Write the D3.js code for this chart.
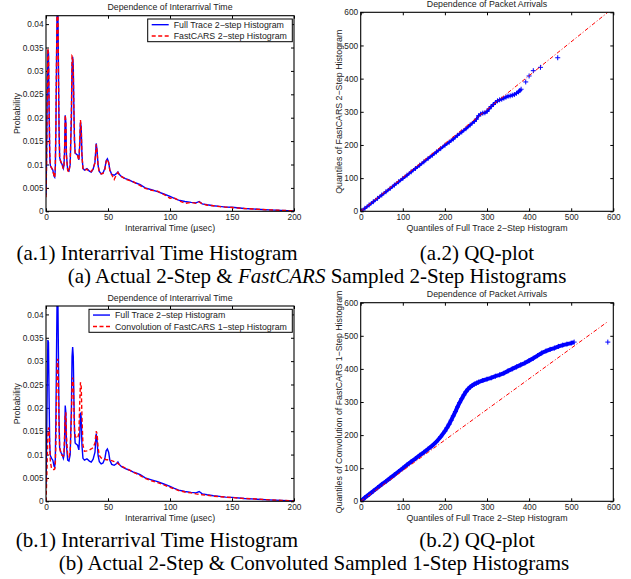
<!DOCTYPE html>
<html>
<head>
<meta charset="utf-8">
<script src="https://cdn.jsdelivr.net/npm/d3@7"></script>
<style>
body { margin: 0; background: #fff; }
svg { display: block; }
</style>
</head>
<body>
<svg id="fig" width="631" height="579"></svg>
<script>
// interarrival histograms (x in usec, probability)
var histX = [0, 0.5, 1, 1.5, 2, 2.5, 3, 3.5, 4.5, 5.5, 6.5, 7, 7.5, 8, 8.5, 9, 9.5, 10, 10.5, 11,
    12, 13, 14, 14.5, 15, 15.5, 16, 16.5, 17.5, 18.5, 19.5, 20.5, 21, 21.5, 22, 22.5, 23, 23.5, 24.5, 25.5,
    26.5, 27.2, 27.8, 28.4, 29, 29.8, 31, 33, 35, 36.5, 38, 39.5, 40.5, 41.2, 42, 43, 44.5, 46, 47.5, 48.5,
    49.5, 50.5, 51.5, 53, 55, 57, 58, 59, 61, 64, 67, 70, 73, 76, 80, 85, 90, 95, 100, 103,
    107, 112, 117, 121, 123.5, 126, 130, 135, 140, 145, 150, 160, 170, 180, 190, 200];
var fullTrace2 = [0.0035, 0.012, 0.025, 0.0345, 0.034, 0.022, 0.012, 0.0098, 0.0092, 0.0088, 0.0075, 0.0073, 0.009, 0.018, 0.032, 0.045, 0.046, 0.032, 0.018, 0.0115,
    0.0105, 0.01, 0.0092, 0.0098, 0.013, 0.0205, 0.019, 0.012, 0.0088, 0.0086, 0.01, 0.02, 0.031, 0.033, 0.031, 0.022, 0.015, 0.0125, 0.0122, 0.012,
    0.011, 0.014, 0.019, 0.018, 0.012, 0.0092, 0.0088, 0.0091, 0.0086, 0.0084, 0.009, 0.0105, 0.0145, 0.013, 0.0098, 0.0085, 0.008, 0.0082, 0.0092, 0.0108,
    0.0112, 0.0105, 0.0088, 0.0079, 0.0077, 0.0081, 0.0084, 0.0079, 0.0074, 0.007, 0.0067, 0.0063, 0.006, 0.0057, 0.005, 0.0046, 0.0042, 0.0037, 0.0032, 0.0028,
    0.0024, 0.0021, 0.0019, 0.0018, 0.0021, 0.0016, 0.0014, 0.0012, 0.00105, 0.0009, 0.00085, 0.0006, 0.00045, 0.0003, 0.0002, 0.0001];
var fastCars2 = [0.003, 0.011, 0.024, 0.0348, 0.0335, 0.023, 0.0125, 0.0097, 0.0093, 0.0087, 0.0076, 0.0072, 0.0092, 0.019, 0.033, 0.045, 0.046, 0.031, 0.018, 0.0113,
    0.0106, 0.0099, 0.0091, 0.0099, 0.0135, 0.0206, 0.0188, 0.0118, 0.0087, 0.0084, 0.0102, 0.022, 0.0332, 0.033, 0.03, 0.021, 0.0148, 0.0124, 0.0121, 0.0119,
    0.0109, 0.015, 0.0195, 0.0178, 0.0118, 0.0091, 0.0087, 0.009, 0.0085, 0.0085, 0.0091, 0.0104, 0.0143, 0.0128, 0.0097, 0.0084, 0.008, 0.0081, 0.009, 0.0106,
    0.0111, 0.0104, 0.0087, 0.0078, 0.0068, 0.008, 0.0083, 0.0079, 0.0074, 0.0069, 0.0066, 0.0064, 0.0059, 0.0055, 0.0049, 0.0045, 0.0043, 0.0036, 0.0028, 0.0029,
    0.0023, 0.0017, 0.0019, 0.0017, 0.002, 0.0016, 0.0013, 0.0012, 0.001, 0.0009, 0.0008, 0.0006, 0.00045, 0.0003, 0.0002, 0.0001];
var convFastCars1 = [0, 0.004, 0.009, 0.014, 0.0158, 0.0155, 0.012, 0.0085, 0.007, 0.0068, 0.0068, 0.0069, 0.0078, 0.013, 0.022, 0.0295, 0.0305, 0.025, 0.016, 0.0115,
    0.0102, 0.0098, 0.0097, 0.0105, 0.014, 0.0185, 0.019, 0.014, 0.0098, 0.0095, 0.0105, 0.018, 0.0245, 0.0265, 0.0255, 0.02, 0.0155, 0.014, 0.0136, 0.0135,
    0.0145, 0.021, 0.0255, 0.0245, 0.018, 0.012, 0.0107, 0.0108, 0.011, 0.0112, 0.0115, 0.0125, 0.015, 0.0145, 0.0115, 0.0098, 0.0093, 0.0091, 0.009, 0.0089,
    0.0089, 0.0088, 0.0088, 0.0087, 0.0085, 0.0083, 0.0081, 0.0079, 0.0075, 0.0071, 0.0067, 0.0063, 0.0059, 0.0055, 0.0049, 0.0044, 0.004, 0.0035, 0.003, 0.0027,
    0.0023, 0.002, 0.0018, 0.0016, 0.0015, 0.0014, 0.0013, 0.0011, 0.001, 0.0009, 0.0008, 0.0006, 0.0005, 0.0003, 0.0002, 0.0001];
var histXTicks = [0, 50, 100, 150, 200];
var histYTicks = [0, 0.005, 0.01, 0.015, 0.02, 0.025, 0.03, 0.035, 0.04];

// QQ plot (a.2): full trace 2-step quantiles vs FastCARS 2-step quantiles
var qqA_x = [0, 10, 20, 30, 40, 50, 60, 70, 80, 90, 100, 110, 120, 130, 140, 150, 160, 170, 180, 190,
    200, 210, 220, 230, 240, 250, 260, 270, 275, 280, 285, 290, 295, 300, 305, 310, 315, 320, 325, 330,
    335, 340, 345, 350, 355, 360, 365, 370, 375, 378, 381];
var qqA_y = [0, 9, 19, 29, 39, 49, 59, 69, 79, 89, 99, 109, 119, 129, 139, 149, 159, 169, 179, 189,
    199, 208, 218, 229, 239, 249, 260, 271, 278, 288, 293, 296, 297, 301, 309, 316, 322, 328, 333, 336,
    338, 341, 344, 347, 348, 350, 352, 356, 360, 364, 368];
var qqA_tailX = [392, 400, 410, 427, 468];
var qqA_tailY = [390, 408, 424, 434, 463];
var qqA_refX = [0, 587];
var qqA_refY = [0, 600];

// QQ plot (b.2): full trace 2-step quantiles vs convolution of FastCARS 1-step
var qqB_x = [0, 10, 20, 30, 40, 50, 60, 70, 80, 90, 100, 110, 120, 130, 140, 150, 160, 170, 180, 190,
    200, 205, 210, 215, 220, 225, 230, 235, 240, 245, 250, 255, 260, 265, 270, 275, 280, 290, 300, 310,
    320, 330, 340, 350, 360, 370, 380, 390, 400, 410, 420, 430, 440, 450, 460, 470, 480, 490, 500, 507];
var qqB_y = [0, 11, 21, 31, 41, 51, 60, 70, 80, 90, 100, 110, 120, 129, 139, 148, 158, 168, 180, 195,
    212, 222, 233, 245, 258, 271, 285, 298, 310, 321, 331, 339, 345, 350, 354, 357, 360, 365, 369, 373,
    378, 382, 387, 394, 400, 406, 412, 418, 425, 432, 440, 448, 454, 459, 463, 468, 472, 475, 478, 481];
var qqB_tailX = [587];
var qqB_tailY = [481];
var qqB_refX = [0, 587];
var qqB_refY = [0, 543];
var qqTicks = [0, 100, 200, 300, 400, 500, 600];

var svg = d3.select('#fig');
var FONT = '"Liberation Sans", Arial, Helvetica, sans-serif';
var SERIF = '"Liberation Serif", "Times New Roman", serif';
var clipId = 0;

function makeAxes(box, xDom, yDom, xTicks, yTicks, yFmt, title, xLabel, yLabel) {
    var g = svg.append('g');
    var x = d3.scaleLinear().domain(xDom).range([box.x0, box.x1]);
    var y = d3.scaleLinear().domain(yDom).range([box.y1, box.y0]);

    var bottom = g.append('g').attr('transform', 'translate(0,' + box.y1 + ')')
        .call(d3.axisBottom(x).tickValues(xTicks).tickSize(-3).tickSizeOuter(0).tickPadding(3).tickFormat(d3.format('d')));
    var top = g.append('g').attr('transform', 'translate(0,' + box.y0 + ')')
        .call(d3.axisTop(x).tickValues(xTicks).tickSize(-3).tickSizeOuter(0).tickFormat(''));
    var left = g.append('g').attr('transform', 'translate(' + box.x0 + ',0)')
        .call(d3.axisLeft(y).tickValues(yTicks).tickSize(-3).tickSizeOuter(0).tickPadding(2.5).tickFormat(yFmt));
    var right = g.append('g').attr('transform', 'translate(' + box.x1 + ',0)')
        .call(d3.axisRight(y).tickValues(yTicks).tickSize(-3).tickSizeOuter(0).tickFormat(''));
    [bottom, top, left, right].forEach(function (a) {
        a.select('.domain').remove();
        a.selectAll('line').attr('stroke', '#000');
        a.selectAll('text').attr('font-family', FONT).attr('font-size', 8.3).attr('fill', '#222');
    });

    g.append('rect')
        .attr('x', box.x0).attr('y', box.y0)
        .attr('width', box.x1 - box.x0).attr('height', box.y1 - box.y0)
        .attr('fill', 'none').attr('stroke', '#000').attr('stroke-width', 1.1);

    // title sits just above the box (the top one just fits in the page)
    g.append('text').text(title)
        .attr('x', (box.x0 + box.x1) / 2).attr('y', Math.max(box.y0 - 5.3, 7.4))
        .attr('text-anchor', 'middle').attr('font-family', FONT).attr('font-size', 8.8).attr('fill', '#222');
    g.append('text').text(xLabel)
        .attr('x', (box.x0 + box.x1) / 2).attr('y', box.y1 + 20)
        .attr('text-anchor', 'middle').attr('font-family', FONT).attr('font-size', 8.8).attr('fill', '#222');
    g.append('text').text(yLabel)
        .attr('transform', 'translate(' + yLabel.x + ',' + (box.y0 + box.y1) / 2 + ') rotate(-90)')
        .attr('text-anchor', 'middle').attr('font-family', FONT).attr('font-size', 8.8).attr('fill', '#222');

    var id = 'clip' + (clipId++);
    svg.append('clipPath').attr('id', id).append('rect')
        .attr('x', box.x0).attr('y', box.y0)
        .attr('width', box.x1 - box.x0).attr('height', box.y1 - box.y0);
    var plot = g.insert('g', 'rect').attr('clip-path', 'url(#' + id + ')');
    return { g: g, plot: plot, x: x, y: y, box: box };
}

function legend(p, bx, labels) {
    var lg = p.g.append('g');
    lg.append('rect').attr('x', bx.x0).attr('y', bx.y0)
        .attr('width', bx.x1 - bx.x0).attr('height', bx.y1 - bx.y0)
        .attr('fill', '#fff').attr('stroke', '#000').attr('stroke-width', 1);
    var rowH = (bx.y1 - bx.y0) / labels.length;
    labels.forEach(function (l, i) {
        var cy = bx.y0 + rowH * (i + 0.5);
        lg.append('line').attr('x1', bx.x0 + 4).attr('x2', bx.x0 + 21).attr('y1', cy).attr('y2', cy)
            .attr('stroke', l.color).attr('stroke-width', 1.4).attr('stroke-dasharray', l.dash);
        lg.append('text').text(l.text).attr('x', bx.x0 + 26).attr('y', cy + 3)
            .attr('font-family', FONT).attr('font-size', 8.8).attr('fill', '#222');
    });
}

function histPanel(box, redVals, redName, legBox, title) {
    var yl = new String('Probability'); yl.x = 20;
    var p = makeAxes(box, [0, 200], [0, 0.0418], histXTicks, histYTicks, d3.format('~g'),
        title, 'Interarrival Time (\u00b5sec)', yl);
    var line = d3.line().x(function (d) { return p.x(d[0]); }).y(function (d) { return p.y(d[1]); });
    p.plot.append('path').datum(histX.map(function (v, i) { return [v, fullTrace2[i]]; }))
        .attr('d', line).attr('fill', 'none').attr('stroke', '#0000ff').attr('stroke-width', 1.4);
    p.plot.append('path').datum(histX.map(function (v, i) { return [v, redVals[i]]; }))
        .attr('d', line).attr('fill', 'none').attr('stroke', '#ff0000').attr('stroke-width', 1.4)
        .attr('stroke-dasharray', '4,2.5');
    legend(p, legBox, [
        { text: 'Full Trace 2\u2212step Histogram', color: '#0000ff', dash: null },
        { text: redName, color: '#ff0000', dash: '4,2.5' }
    ]);
}

function qqPanel(box, xs, ys, tx, ty, rx, ry, yName, bandW) {
    var yl = new String(yName); yl.x = 341.5;
    var p = makeAxes(box, [0, 600], [0, 600], qqTicks, qqTicks, d3.format('d'),
        'Dependence of Packet Arrivals', 'Quantiles of Full Trace 2\u2212Step Histogram', yl);
    var line = d3.line().x(function (d) { return p.x(d[0]); }).y(function (d) { return p.y(d[1]); });
    var pts = xs.map(function (v, i) { return [v, ys[i]]; });
    var tail = tx.map(function (v, i) { return [v, ty[i]]; });
    p.plot.append('path').datum(pts).attr('d', line)
        .attr('fill', 'none').attr('stroke', '#0000ff').attr('stroke-width', bandW);
    p.plot.selectAll('path.mk').data(pts.concat(tail)).enter().append('path')
        .attr('class', 'mk')
        .attr('transform', function (d) { return 'translate(' + p.x(d[0]) + ',' + p.y(d[1]) + ')'; })
        .attr('d', 'M-2.5,0H2.5M0,-2.5V2.5')
        .attr('stroke', '#0000ff').attr('stroke-width', 1);
    p.plot.append('path').datum(rx.map(function (v, i) { return [v, ry[i]]; })).attr('d', line)
        .attr('fill', 'none').attr('stroke', '#ff0000').attr('stroke-width', 1)
        .attr('stroke-dasharray', '4,2,1,2');
}

histPanel({ x0: 46, x1: 294, y0: 15.7, y1: 211.3 }, fastCars2, 'FastCARS 2\u2212step Histogram',
    { x0: 147.7, x1: 292.3, y0: 19, y1: 41.7 }, 'Dependence of Interarrival Time');
qqPanel({ x0: 360.7, x1: 613.3, y0: 12.3, y1: 211.3 }, qqA_x, qqA_y, qqA_tailX, qqA_tailY, qqA_refX, qqA_refY,
    'Quantiles of FastCARS 2\u2212Step Histogram', 2.5);
histPanel({ x0: 46, x1: 294, y0: 306, y1: 501.3 }, convFastCars1, 'Convolution of FastCARS 1\u2212step Histogram',
    { x0: 89, x1: 292.3, y0: 309.3, y1: 332.3 }, 'Dependence of Interarrival Time');
qqPanel({ x0: 360.7, x1: 613.3, y0: 302.7, y1: 501.3 }, qqB_x, qqB_y, qqB_tailX, qqB_tailY, qqB_refX, qqB_refY,
    'Quantiles of Convolution of FastCARS 1\u2212Step Histogram', 4);

// captions
function caption(x, y, parts) {
    var t = svg.append('text').attr('x', x).attr('y', y).attr('text-anchor', 'middle')
        .attr('font-family', SERIF).attr('font-size', 21).attr('fill', '#000');
    parts.forEach(function (s) {
        t.append('tspan').text(s[0]).attr('font-style', s[1] ? 'italic' : null);
    });
}
caption(157, 260, [['(a.1) Interarrival Time Histogram']]);
caption(477, 260, [['(a.2) QQ-plot']]);
caption(317, 283, [['(a) Actual 2-Step & '], ['FastCARS', true], [' Sampled 2-Step Histograms']]);
caption(157, 547, [['(b.1) Interarrival Time Histogram']]);
caption(477, 547, [['(b.2) QQ-plot']]);
caption(314, 570, [['(b) Actual 2-Step & Convoluted Sampled 1-Step Histograms']]);
</script>
</body>
</html>
